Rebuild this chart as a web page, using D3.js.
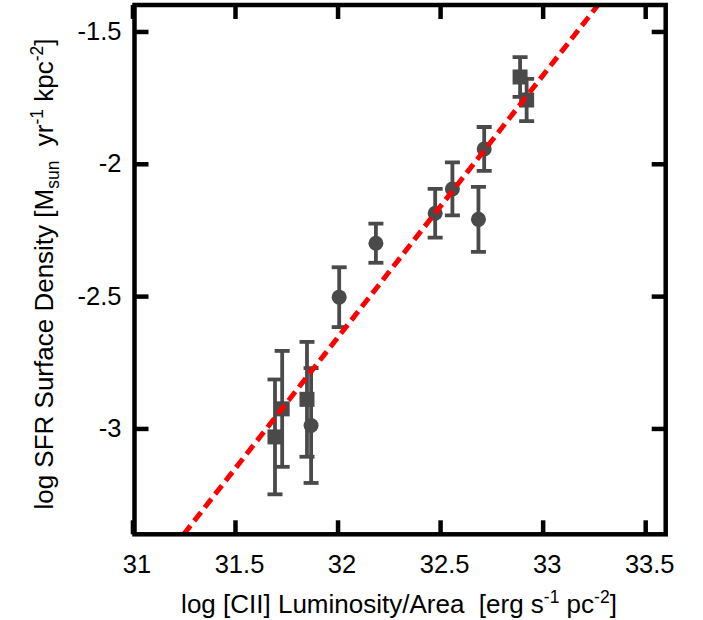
<!DOCTYPE html>
<html>
<head>
<meta charset="utf-8">
<script src="https://cdn.jsdelivr.net/npm/d3@7"></script>
<style>
  body { margin: 0; background: #fff; }
  text { font-family: "Liberation Sans", Arial, sans-serif; white-space: pre; }
</style>
</head>
<body>
<svg id="chart" width="703" height="620"></svg>
<script>
// data
const lumX   = [31.695, 31.73, 31.851, 31.871, 32.008, 32.187, 32.476, 32.560, 32.687, 32.715, 32.890, 32.922];
const sfrY   = [-3.032, -2.926, -2.890, -2.989, -2.504, -2.300, -2.187, -2.095, -2.210, -1.944, -1.672, -1.759];
const sfrErr = [0.217, 0.219, 0.217, 0.217, 0.113, 0.074, 0.092, 0.10, 0.123, 0.083, 0.075, 0.08];
const shape  = ["s", "s", "s", "c", "c", "c", "c", "c", "c", "c", "s", "s"];
const fitX = [31.25, 33.27];
const fitY = [-3.4, -1.4];
const xTicks = [31, 31.5, 32, 32.5, 33, 33.5];
const yTicks = [-1.5, -2, -2.5, -3];

const pL = 134.5, pR = 665.7, pT = 5, pB = 534.3;
const svg = d3.select("#chart");
const x = d3.scaleLinear().domain([31.01, 33.6]).range([pL, pR]);
const y = d3.scaleLinear().domain([-3.4, -1.4]).range([pB, pT]);

const pts = lumX.map((d, i) => ({x: d, y: sfrY[i], e: sfrErr[i], s: shape[i]}));

svg.append("clipPath").attr("id", "clip")
  .append("rect").attr("x", pL).attr("y", pT).attr("width", pR - pL).attr("height", pB - pT);

// axes, ticks inward on all four sides
const tk = 14;
const fs = 25.5;
let gx = svg.append("g").attr("transform", `translate(0,${pB})`)
  .call(d3.axisBottom(x).tickValues(xTicks).tickSize(-tk).tickPadding(21).tickFormat(d => String(d)));
let gy = svg.append("g").attr("transform", `translate(${pL},0)`)
  .call(d3.axisLeft(y).tickValues(yTicks).tickSize(-tk).tickPadding(13).tickFormat(d => String(d)));
let gt = svg.append("g").attr("transform", `translate(0,${pT})`)
  .call(d3.axisTop(x).tickValues(xTicks).tickSize(-tk).tickFormat(""));
let gr = svg.append("g").attr("transform", `translate(${pR},0)`)
  .call(d3.axisRight(y).tickValues(yTicks).tickSize(-tk).tickFormat(""));
[gx, gy, gt, gr].forEach(g => {
  g.select(".domain").remove();
  g.selectAll("line").attr("stroke", "#000").attr("stroke-width", 4.5);
  g.selectAll("text").attr("font-size", fs).attr("fill", "#000")
    .style("font-family", '"Liberation Sans", Arial, sans-serif');
});
gx.selectAll("text").attr("dx", 4);

const plot = svg.append("g").attr("clip-path", "url(#clip)");
const grey = "#4a4a4a";

// error bars
const eb = plot.selectAll(".eb").data(pts).enter().append("g");
eb.append("line")
  .attr("x1", d => x(d.x)).attr("x2", d => x(d.x))
  .attr("y1", d => y(d.y - d.e)).attr("y2", d => y(d.y + d.e))
  .attr("stroke", grey).attr("stroke-width", 3.8);
[-1, 1].forEach(k => {
  eb.append("line")
    .attr("x1", d => x(d.x) - 7.5).attr("x2", d => x(d.x) + 7.5)
    .attr("y1", d => y(d.y + k * d.e)).attr("y2", d => y(d.y + k * d.e))
    .attr("stroke", grey).attr("stroke-width", 3.8);
});

// markers
plot.selectAll(".sq").data(pts.filter(d => d.s === "s")).enter().append("rect")
  .attr("x", d => x(d.x) - 7.5).attr("y", d => y(d.y) - 7.5)
  .attr("width", 15).attr("height", 15).attr("fill", grey);
plot.selectAll(".ci").data(pts.filter(d => d.s === "c")).enter().append("circle")
  .attr("cx", d => x(d.x)).attr("cy", d => y(d.y)).attr("r", 7.5).attr("fill", grey);

// fit line
plot.append("line")
  .attr("x1", x(fitX[0])).attr("y1", y(fitY[0]))
  .attr("x2", x(fitX[1])).attr("y2", y(fitY[1]))
  .attr("stroke", "#ff0000").attr("stroke-width", 5).attr("stroke-dasharray", "11,6");

// frame
svg.append("rect").attr("x", pL).attr("y", pT)
  .attr("width", pR - pL).attr("height", pB - pT)
  .attr("fill", "none").attr("stroke", "#000").attr("stroke-width", 4.5);

// axis titles
const ts = 26, ss = 17.5;
const xt = svg.append("text").attr("x", 399).attr("y", 613).attr("text-anchor", "middle").attr("font-size", ts);
xt.append("tspan").text("log [CII] Luminosity/Area  [erg s");
xt.append("tspan").text("-1").attr("font-size", ss).attr("dy", -10);
xt.append("tspan").text(" pc").attr("dy", 10);
xt.append("tspan").text("-2").attr("font-size", ss).attr("dy", -10);
xt.append("tspan").text("]").attr("dy", 10);

const yt = svg.append("text").attr("transform", "translate(53,274) rotate(-90)")
  .attr("text-anchor", "middle").attr("font-size", ts);
yt.append("tspan").text("log SFR Surface Density [M");
yt.append("tspan").text("sun").attr("font-size", ss).attr("dy", 6);
yt.append("tspan").text("  yr").attr("dy", -6);
yt.append("tspan").text("-1").attr("font-size", ss).attr("dy", -10);
yt.append("tspan").text(" kpc").attr("dy", 10);
yt.append("tspan").text("-2").attr("font-size", ss).attr("dy", -10);
yt.append("tspan").text("]").attr("dy", 10);
</script>
</body>
</html>
